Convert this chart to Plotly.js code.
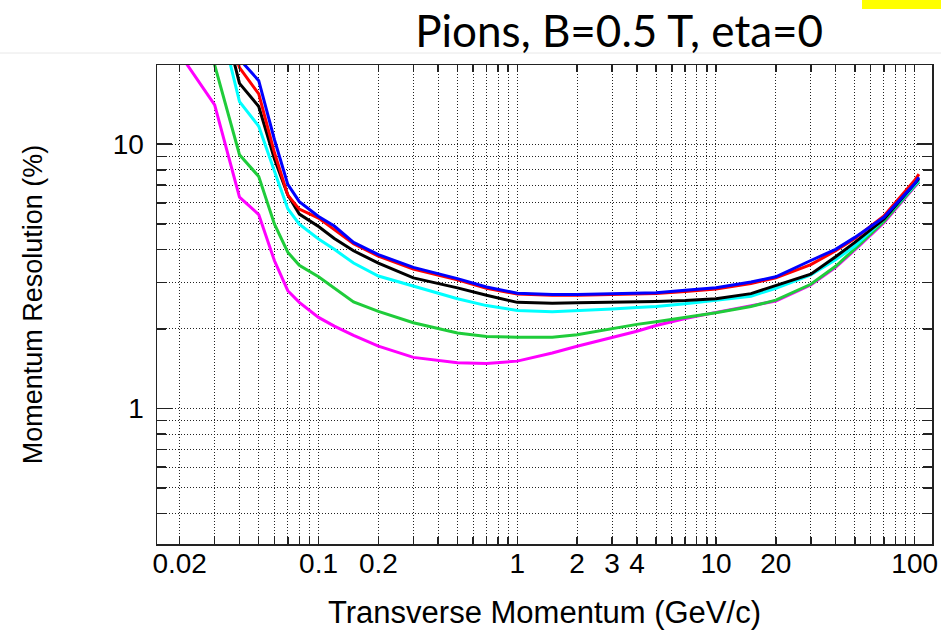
<!DOCTYPE html>
<html><head><meta charset="utf-8">
<script src="https://cdn.plot.ly/plotly-3.0.1.min.js"></script>
<style>html,body{margin:0;padding:0;background:#fff}#chart{width:941px;height:637px}</style>
</head><body><div id="chart"></div><script>
// Transverse momentum (GeV/c)
const pt = [0.02, 0.03, 0.04, 0.05, 0.06, 0.07, 0.08, 0.1, 0.12, 0.15, 0.2, 0.3, 0.5, 0.7, 1, 1.5, 2, 3, 4, 5, 7, 10, 15, 20, 30, 40, 50, 70, 100, 105];
// Momentum resolution (%) per curve
const resMagenta = [22, 14.1, 6.3, 5.42, 3.62, 2.79, 2.52, 2.21, 2.05, 1.89, 1.72, 1.56, 1.49, 1.48, 1.51, 1.62, 1.72, 1.85, 1.96, 2.06, 2.19, 2.31, 2.45, 2.55, 2.93, 3.42, 3.98, 5.05, 6.9, 7.2];
const resGreen   = [60, 20, 9.13, 7.55, 4.98, 3.9, 3.48, 3.15, 2.85, 2.53, 2.33, 2.11, 1.93, 1.87, 1.86, 1.86, 1.90, 2.01, 2.08, 2.13, 2.21, 2.30, 2.43, 2.57, 2.95, 3.45, 4.02, 5.1, 6.95, 7.2];
const resCyan    = [60, 35, 14.5, 11.7, 7.9, 5.7, 4.98, 4.38, 4.0, 3.55, 3.17, 2.9, 2.6, 2.45, 2.35, 2.32, 2.34, 2.38, 2.41, 2.43, 2.49, 2.57, 2.66, 2.85, 3.2, 3.65, 4.12, 5.2, 6.95, 7.3];
const resBlack   = [60, 40, 17, 13.9, 8.79, 6.43, 5.44, 4.88, 4.4, 3.95, 3.55, 3.12, 2.86, 2.68, 2.52, 2.50, 2.51, 2.52, 2.53, 2.54, 2.56, 2.60, 2.72, 2.92, 3.22, 3.75, 4.25, 5.2, 7.1, 7.4];
const resRed     = [60, 40, 19.5, 15.5, 9.28, 6.42, 5.68, 5.25, 4.75, 4.2, 3.77, 3.37, 3.07, 2.85, 2.71, 2.68, 2.68, 2.69, 2.71, 2.72, 2.77, 2.83, 2.97, 3.12, 3.5, 3.95, 4.4, 5.35, 7.3, 7.7];
const resBlue    = [60, 40, 21, 17.4, 10.4, 7.05, 6.06, 5.33, 4.9, 4.25, 3.82, 3.42, 3.1, 2.88, 2.73, 2.70, 2.70, 2.71, 2.72, 2.74, 2.80, 2.86, 3.01, 3.15, 3.63, 4.0, 4.44, 5.29, 7.1, 7.5];

const xLabelVals = [0.02, 0.1, 0.2, 1, 2, 3, 4, 10, 20, 100];
const xLabelText = ['0.02', '0.1', '0.2', '1', '2', '3', '4', '10', '20', '100'];
const xMinorVals = [0.03, 0.04, 0.05, 0.06, 0.07, 0.08, 0.09, 0.3, 0.4, 0.5, 0.6, 0.7, 0.8, 0.9, 5, 6, 7, 8, 9, 30, 40, 50, 60, 70, 80, 90];
const xDecadeVals = [0.1, 1, 10, 100];
const yLabelVals = [1, 10];
const yLabelText = ['1', '10'];
const yMinorVals = [0.4, 0.5, 0.6, 0.7, 0.8, 0.9, 2, 3, 4, 5, 6, 7, 8, 9, 20];

const series = [
  {y: resMagenta, color: '#ff00ff'},
  {y: resGreen, color: '#1fcc3a'},
  {y: resCyan, color: '#00ffff'},
  {y: resBlack, color: '#000000'},
  {y: resRed, color: '#ff0000'},
  {y: resBlue, color: '#0000ff'}
];
const traces = series.map(s => ({
  x: pt, y: s.y, type: 'scatter', mode: 'lines',
  line: {color: s.color, width: 3}, hoverinfo: 'skip'
}));

const sans = 'Liberation Sans, Arial, sans-serif';
const tickFont = {family: sans, size: 28, color: '#000'};
const xTitleFont = {family: sans, size: 31, color: '#000'};
const yTitleFont = {family: sans, size: 27, color: '#000'};
const gridDash = '1px,2px';
const gridColor = '#222';
const xRange = [Math.log10(0.01538), Math.log10(122.2)];
const yRange = [Math.log10(0.3067), Math.log10(19.95)];

const layout = {
  width: 941, height: 637,
  margin: {l: 157, r: 9, t: 65, b: 93},
  paper_bgcolor: '#fff', plot_bgcolor: '#fff',
  showlegend: false,
  title: {
    text: 'Pions, B=0.5 T, eta=0',
    font: {family: 'Lato, Open Sans, sans-serif', size: 44, color: '#000'},
    xref: 'container', yref: 'container', x: 0.658, xanchor: 'center', y: 0.95, yanchor: 'middle'
  },
  xaxis: {
    type: 'log', range: xRange, autorange: false,
    tickmode: 'array', tickvals: xLabelVals, ticktext: xLabelText,
    ticks: 'inside', ticklen: 7, tickwidth: 1.5, tickcolor: '#222',
    showline: true, linecolor: '#222', linewidth: 1.5, mirror: 'allticks',
    showgrid: true, gridcolor: gridColor, griddash: gridDash, gridwidth: 1,
    minor: {tickmode: 'array', tickvals: xMinorVals, ticks: 'inside', ticklen: 7, tickwidth: 1.5, tickcolor: '#222',
            showgrid: true, gridcolor: gridColor, griddash: gridDash, gridwidth: 1},
    zeroline: false, tickfont: tickFont, ticklabelstandoff: -6,
    title: {text: 'Transverse Momentum (GeV/c)', font: xTitleFont, standoff: 23}
  },
  xaxis2: {
    type: 'log', range: xRange, autorange: false, overlaying: 'x', anchor: 'y', side: 'bottom',
    tickmode: 'array', tickvals: xDecadeVals, ticktext: ['', '', '', ''],
    ticks: 'inside', ticklen: 15, tickwidth: 1.5, tickcolor: '#222',
    showline: false, mirror: 'ticks', showgrid: false, zeroline: false, showticklabels: false
  },
  yaxis: {
    type: 'log', range: yRange, autorange: false,
    tickmode: 'array', tickvals: yLabelVals, ticktext: yLabelText,
    ticks: 'inside', ticklen: 15, tickwidth: 1.5, tickcolor: '#222',
    showline: true, linecolor: '#222', linewidth: 1.5, mirror: 'allticks',
    showgrid: true, gridcolor: gridColor, griddash: gridDash, gridwidth: 1,
    minor: {tickmode: 'array', tickvals: yMinorVals, ticks: 'inside', ticklen: 9, tickwidth: 1.5, tickcolor: '#222',
            showgrid: true, gridcolor: gridColor, griddash: gridDash, gridwidth: 1},
    zeroline: false, tickfont: tickFont, ticklabelstandoff: 6,
    title: {text: 'Momentum Resolution (%)', font: yTitleFont, standoff: 62}
  },
  shapes: [
    {type: 'rect', xref: 'paper', yref: 'paper', x0: 0.9097, x1: 1.0116, y0: 1.1169, y1: 1.14, fillcolor: '#ffff00', line: {width: 0}, layer: 'above'},
    {type: 'line', xref: 'paper', yref: 'paper', x0: -0.21, x1: 1.02, y0: 1.025, y1: 1.025, line: {color: '#e8e8e8', width: 1}}
  ]
};

Plotly.newPlot('chart', traces, layout, {staticPlot: true, displayModeBar: false});
</script></body></html>
